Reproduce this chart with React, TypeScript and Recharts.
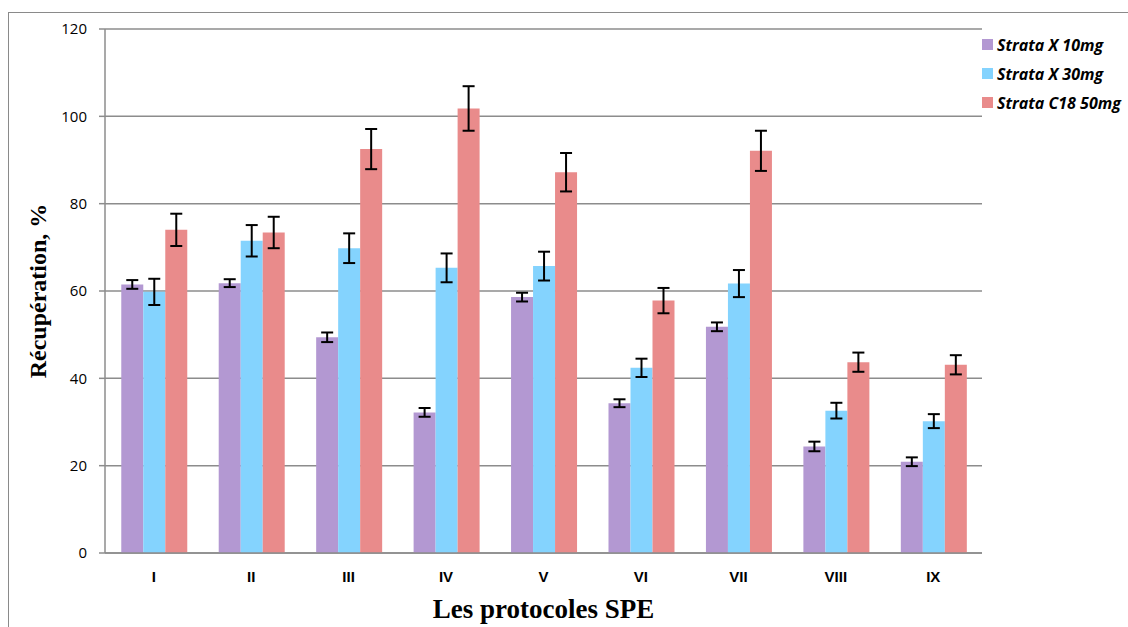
import React from 'react';
import { BarChart, Bar, XAxis, YAxis, CartesianGrid, ErrorBar, Legend } from 'recharts';

const categories = ['I', 'II', 'III', 'IV', 'V', 'VI', 'VII', 'VIII', 'IX'];
const strataX10 = [61.5, 61.8, 49.4, 32.2, 58.6, 34.3, 51.8, 24.4, 20.9];
const strataX10Err = [1.0, 0.9, 1.1, 1.0, 1.0, 0.9, 1.0, 1.1, 1.0];
const strataX30 = [59.8, 71.5, 69.8, 65.3, 65.7, 42.4, 61.7, 32.6, 30.2];
const strataX30Err = [3.0, 3.6, 3.4, 3.3, 3.3, 2.1, 3.1, 1.8, 1.6];
const strataC18 = [74.0, 73.4, 92.5, 101.8, 87.2, 57.8, 92.1, 43.7, 43.1];
const strataC18Err = [3.7, 3.6, 4.6, 5.1, 4.4, 2.9, 4.6, 2.2, 2.2];
const yTicks = [0, 20, 40, 60, 80, 100, 120];

const seriesNames = ['Strata X 10mg', 'Strata X 30mg', 'Strata C18 50mg'];
const seriesColors = ['#b398d2', '#84d3fe', '#e98b8b'];

const data = categories.map((name, i) => ({
  name,
  x10: strataX10[i],
  x10e: strataX10Err[i],
  x30: strataX30[i],
  x30e: strataX30Err[i],
  c18: strataC18[i],
  c18e: strataC18Err[i],
}));

// category boundaries, for the little tick marks between groups
const edgeTicks = [...categories.map((_, i) => i), categories.length];

const gridColor = '#8c8c8c';

function LegendBox() {
  return (
    <div style={{ fontFamily: '"Open Sans", sans-serif', fontWeight: 700, fontStyle: 'italic', fontSize: 16, color: '#000' }}>
      {seriesNames.map((n, i) => (
        <div key={n} style={{ display: 'flex', alignItems: 'center', height: 29, whiteSpace: 'nowrap' }}>
          <span style={{ width: 11, height: 11, background: seriesColors[i], marginRight: 4, display: 'inline-block', flexShrink: 0 }} />
          <span>{n}</span>
        </div>
      ))}
    </div>
  );
}

export default function App() {
  return (
    <div style={{ position: 'absolute', left: 0, top: 0, width: 1128, height: 627, overflow: 'hidden', background: '#fff' }}>
      <div style={{ position: 'absolute', left: 8, top: 12, width: 1200, height: 700, borderLeft: '1px solid #8a8a8a', borderTop: '1px solid #8a8a8a' }} />
      <div style={{ position: 'absolute', left: 0, top: 0 }}>
        <BarChart
          width={1128}
          height={627}
          data={data}
          margin={{ top: 29, right: 0, left: 25, bottom: 4 }}
          barCategoryGap="16.7%"
          barGap={0}
        >
          <CartesianGrid horizontal vertical={false} xAxisId={1} stroke={gridColor} strokeWidth={1.5} />
          {/* axis line + boundary ticks */}
          <XAxis
            xAxisId={0}
            type="number"
            domain={[0, categories.length]}
            ticks={edgeTicks}
            height={1}
            tick={false}
            axisLine={{ stroke: gridColor, strokeWidth: 1.5 }}
            tickLine={{ stroke: gridColor, strokeWidth: 1.5 }}
            tickSize={5}
          />
          <XAxis
            xAxisId={1}
            dataKey="name"
            height={69}
            axisLine={false}
            tickLine={false}
            tickSize={0}
            tickMargin={17}
            tick={{ fill: '#000', fontSize: 15, fontWeight: 700, fontFamily: '"Liberation Sans", sans-serif' }}
            label={{
              value: 'Les protocoles SPE',
              position: 'insideBottom',
              offset: 5,
              style: { fontFamily: '"Liberation Serif", serif', fontWeight: 700, fontSize: 27, fill: '#000' },
            }}
          />
          <YAxis
            width={80}
            domain={[0, 120]}
            ticks={yTicks}
            axisLine={{ stroke: gridColor, strokeWidth: 1.5 }}
            tickLine={{ stroke: gridColor, strokeWidth: 1.5 }}
            tickSize={6}
            tickMargin={12}
            tick={{ fill: '#000', fontSize: 15, fontFamily: '"Open Sans", sans-serif' }}
            label={{
              value: 'Récupération, %',
              angle: -90,
              position: 'insideLeft',
              offset: 12,
              style: { fontFamily: '"Liberation Serif", serif', fontWeight: 700, fontSize: 24, fill: '#000', textAnchor: 'middle' },
            }}
          />
          <Legend
            layout="vertical"
            align="right"
            verticalAlign="top"
            content={() => <LegendBox />}
            wrapperStyle={{ left: 982, top: 30, width: 146, right: 'auto' }}
          />
          <Bar xAxisId={1} dataKey="x10" name={seriesNames[0]} fill={seriesColors[0]} isAnimationActive={false}>
            <ErrorBar dataKey="x10e" width={6} stroke="#000" strokeWidth={2} />
          </Bar>
          <Bar xAxisId={1} dataKey="x30" name={seriesNames[1]} fill={seriesColors[1]} isAnimationActive={false}>
            <ErrorBar dataKey="x30e" width={6} stroke="#000" strokeWidth={2} />
          </Bar>
          <Bar xAxisId={1} dataKey="c18" name={seriesNames[2]} fill={seriesColors[2]} isAnimationActive={false}>
            <ErrorBar dataKey="c18e" width={6} stroke="#000" strokeWidth={2} />
          </Bar>
        </BarChart>
      </div>
    </div>
  );
}
